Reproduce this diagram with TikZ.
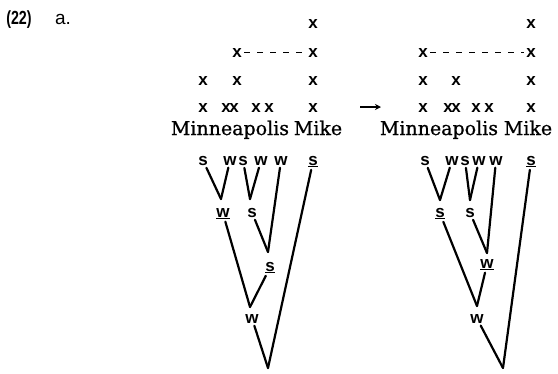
\documentclass[tikz,border=0pt]{standalone}
\usepackage{fontspec}
\setmainfont[FakeBold=0.8]{DejaVu Serif}
\newfontfamily\lblfont{Liberation Sans}
\newfontfamily\condfont[FakeStretch=0.75]{Liberation Sans}
\usetikzlibrary{arrows.meta}
\begin{document}
\begin{tikzpicture}[x=1pt,y=-1pt,
  mk/.style={font=\fontsize{17}{17}\lblfont\bfseries, anchor=base, inner sep=1.5pt},
  wd/.style={font=\fontsize{19}{19}\selectfont, anchor=base, inner sep=0pt},
  ttl/.style={font=\fontsize{19}{19}\lblfont, anchor=base, inner sep=0pt},
  br/.style={line width=2.2pt, line cap=round, shorten <=1pt},
  dsh/.style={line width=1.8pt, dash pattern=on 6pt off 7pt, shorten <=1pt, shorten >=1pt}]
\useasboundingbox (0,0) rectangle (558,373);

% title
\node[ttl, font=\fontsize{19}{19}\condfont\bfseries] (num) at (19,24) {(22)};
\node[ttl] (lab) at (63,24) {a.};

% ---------------- left grid ----------------
\node[mk] (la1) at (313,28) {x};
\node[mk] (la2) at (237,57) {x};
\node[mk] (lb2) at (313,57) {x};
\draw[dsh] (la2) -- (lb2);
\node[mk] (la3) at (203,85) {x};
\node[mk] (lb3) at (237,85) {x};
\node[mk] (lc3) at (313,85) {x};
\node[mk] (la4) at (203,112) {x};
\node[mk] (lb4) at (230,112) {x\kern-1.5pt x};
\node[mk] (lc4) at (256,112) {x};
\node[mk] (ld4) at (269,112) {x};
\node[mk] (le4) at (313,112) {x};
\node[wd] (lmin) at (230,135) {Minneapolis};
\node[wd] (lmik) at (318,135) {Mike};

% ---------------- left tree ----------------
\node[mk] (L1) at (203,165) {s};
\node[mk] (L2) at (230,165) {w};
\node[mk] (L3) at (243,165) {s};
\node[mk] (L4) at (261,165) {w};
\node[mk] (L5) at (281,165) {w};
\node[mk] (L6) at (313,165) {\underline{s}};
\coordinate (lv1) at (221,199);
\coordinate (lv2) at (250,199);
\coordinate (lv3) at (268,252);
\coordinate (lv4) at (250,307);
\coordinate (lv5) at (268,368);
\node[mk] (ln1) at (223,217) {\underline{w}};
\node[mk] (ln2) at (252,217) {s};
\node[mk] (ln3) at (270,271) {\underline{s}};
\node[mk] (ln4) at (252,323) {w};
\draw[br] (L1) -- (lv1);
\draw[br] (L2) -- (lv1);
\draw[br] (L3) -- (lv2);
\draw[br] (L4) -- (lv2);
\draw[br] (ln2) -- (lv3);
\draw[br] (L5) -- (lv3);
\draw[br] (ln1) -- (lv4);
\draw[br] (ln3) -- (lv4);
\draw[br] (ln4) -- (lv5);
\draw[br] (L6) -- (lv5);

% arrow
\coordinate (arA) at (360,107);
\coordinate (arB) at (381,107);
\draw[line width=2pt, -{Stealth[length=6pt,width=6pt]}] (arA) -- (arB);

% ---------------- right grid ----------------
\node[mk] (ra1) at (531,28) {x};
\node[mk] (ra2) at (423,57) {x};
\node[mk] (rb2) at (531,57) {x};
\draw[dsh] (ra2) -- (rb2);
\node[mk] (ra3) at (423,85) {x};
\node[mk] (rb3) at (456,85) {x};
\node[mk] (rc3) at (531,85) {x};
\node[mk] (ra4) at (423,112) {x};
\node[mk] (rb4) at (452,112) {x\kern-1.5pt x};
\node[mk] (rc4) at (476,112) {x};
\node[mk] (rd4) at (489,112) {x};
\node[mk] (re4) at (531,112) {x};
\node[wd] (rmin) at (439,135) {Minneapolis};
\node[wd] (rmik) at (528,135) {Mike};

% ---------------- right tree ----------------
\node[mk] (R1) at (425,165) {s};
\node[mk] (R2) at (452,165) {w};
\node[mk] (R3) at (465,165) {s};
\node[mk] (R4) at (479,165) {w};
\node[mk] (R5) at (496,165) {w};
\node[mk] (R6) at (531,165) {\underline{s}};
\coordinate (rv1) at (440,200);
\coordinate (rv2) at (470,200);
\coordinate (rv3) at (487,253);
\coordinate (rv4) at (477,306);
\coordinate (rv5) at (503,368);
\node[mk] (rn1) at (440,217) {\underline{s}};
\node[mk] (rn2) at (470,217) {s};
\node[mk] (rn3) at (487,268) {\underline{w}};
\node[mk] (rn4) at (477,323) {w};
\draw[br] (R1) -- (rv1);
\draw[br] (R2) -- (rv1);
\draw[br] (R3) -- (rv2);
\draw[br] (R4) -- (rv2);
\draw[br] (rn2) -- (rv3);
\draw[br] (R5) -- (rv3);
\draw[br] (rn1) -- (rv4);
\draw[br] (rn3) -- (rv4);
\draw[br] (rn4) -- (rv5);
\draw[br] (R6) -- (rv5);
\end{tikzpicture}
\end{document}
